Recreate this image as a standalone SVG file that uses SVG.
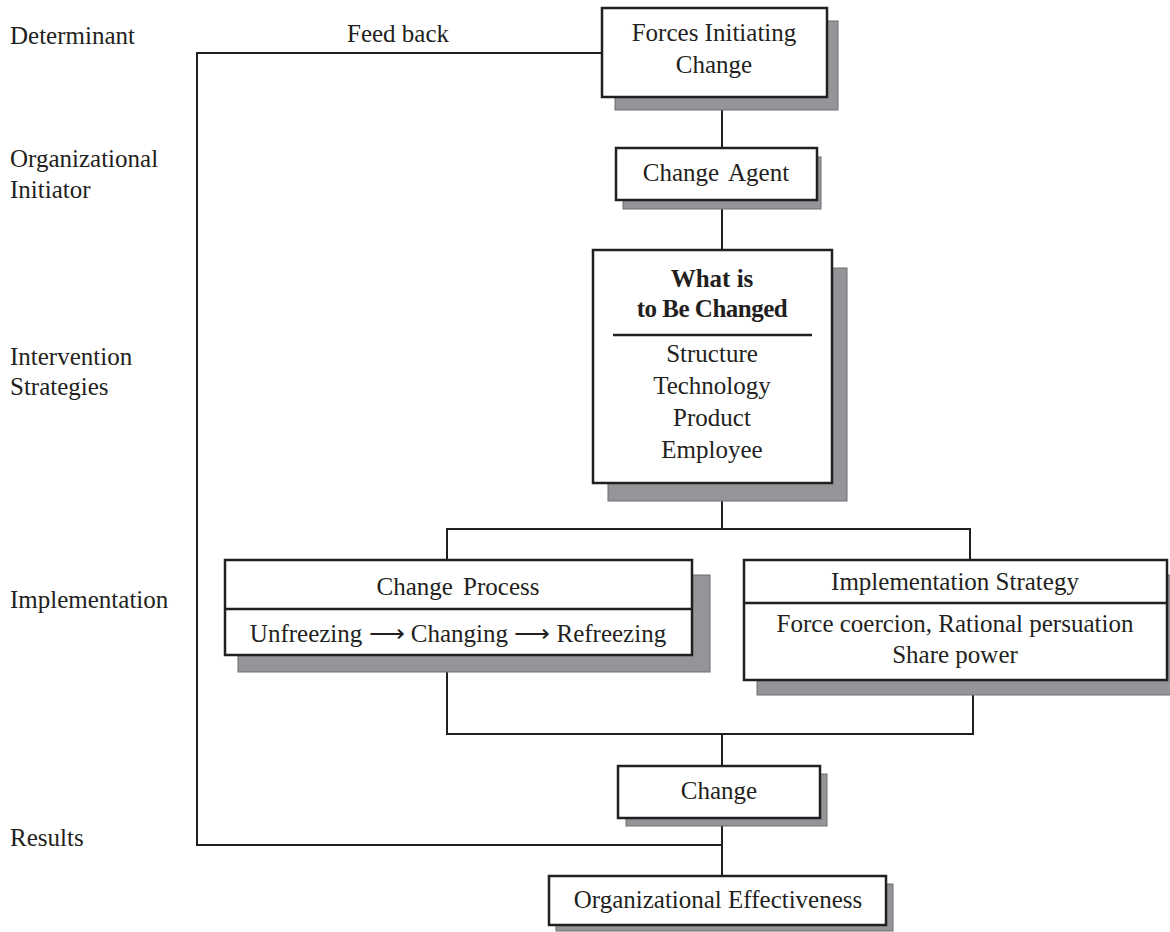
<svg xmlns="http://www.w3.org/2000/svg" width="1170" height="932" viewBox="0 0 1170 932">
<style>
text{font-family:"Liberation Serif","Times New Roman",serif;font-size:25px;fill:#231f20}
.c{text-anchor:middle}
.b{font-weight:bold}
.box{fill:#fff;stroke:#231f20;stroke-width:2.5}
.sh{fill:#939598;stroke:#6d6e71;stroke-width:1}
.ln{fill:none;stroke:#231f20;stroke-width:2}
</style>
<g id="labels">
<text x="10" y="44">Determinant</text>
<text x="10" y="167">Organizational</text>
<text x="10" y="198">Initiator</text>
<text x="10" y="365">Intervention</text>
<text x="10" y="395">Strategies</text>
<text x="10" y="608">Implementation</text>
<text x="10" y="846">Results</text>
<text x="347" y="42">Feed back</text>
</g>
<g id="connectors">
<polyline class="ln" points="602,53 197,53 197,845 722,845"/>
<line class="ln" x1="722" y1="97" x2="722" y2="148"/>
<line class="ln" x1="722" y1="200" x2="722" y2="250"/>
<line class="ln" x1="722" y1="483" x2="722" y2="529"/>
<polyline class="ln" points="447,560 447,529 970,529 970,560"/>
<polyline class="ln" points="447,655 447,734 973,734 973,680"/>
<line class="ln" x1="722" y1="734" x2="722" y2="766"/>
<line class="ln" x1="722" y1="818" x2="722" y2="877"/>
</g>
<g id="forces">
<rect class="sh" x="615" y="21" width="223" height="89"/>
<rect class="box" x="602" y="8" width="225" height="89"/>
<text class="c" x="714" y="41">Forces Initiating</text>
<text class="c" x="714" y="73">Change</text>
</g>
<g id="agent">
<rect class="sh" x="623" y="157" width="198" height="52"/>
<rect class="box" x="616" y="148" width="201" height="52"/>
<text class="c" x="716" y="181" word-spacing="4">Change Agent</text>
</g>
<g id="what">
<rect class="sh" x="608" y="268" width="239" height="233"/>
<rect class="box" x="593" y="250" width="239" height="233"/>
<text class="c b" x="712" y="287">What is</text>
<text class="c b" x="712" y="317" letter-spacing="-0.5">to Be Changed</text>
<line x1="613" y1="335" x2="812" y2="335" stroke="#231f20" stroke-width="2.5"/>
<text class="c" x="712" y="362">Structure</text>
<text class="c" x="712" y="394">Technology</text>
<text class="c" x="712" y="426">Product</text>
<text class="c" x="712" y="458">Employee</text>
</g>
<g id="process">
<rect class="sh" x="238" y="575" width="472" height="97"/>
<rect class="box" x="225" y="560" width="467" height="95"/>
<line x1="225" y1="609" x2="692" y2="609" stroke="#231f20" stroke-width="2.5"/>
<text class="c" x="458" y="595" word-spacing="4">Change Process</text>
<text class="c" x="458" y="642">Unfreezing ⟶ Changing ⟶ Refreezing</text>
</g>
<g id="strategy">
<rect class="sh" x="757" y="575" width="423" height="120"/>
<rect class="box" x="744" y="560" width="423" height="120"/>
<line x1="744" y1="603" x2="1167" y2="603" stroke="#231f20" stroke-width="2.5"/>
<text class="c" x="955" y="590">Implementation Strategy</text>
<text class="c" x="955" y="632">Force coercion, Rational persuation</text>
<text class="c" x="955" y="663">Share power</text>
</g>
<g id="change">
<rect class="sh" x="626" y="774" width="201" height="52"/>
<rect class="box" x="618" y="766" width="202" height="52"/>
<text class="c" x="719" y="799">Change</text>
</g>
<g id="effectiveness">
<rect class="sh" x="556" y="884" width="337" height="47"/>
<rect class="box" x="549" y="876" width="337" height="49"/>
<text class="c" x="718" y="908">Organizational Effectiveness</text>
</g>
</svg>
